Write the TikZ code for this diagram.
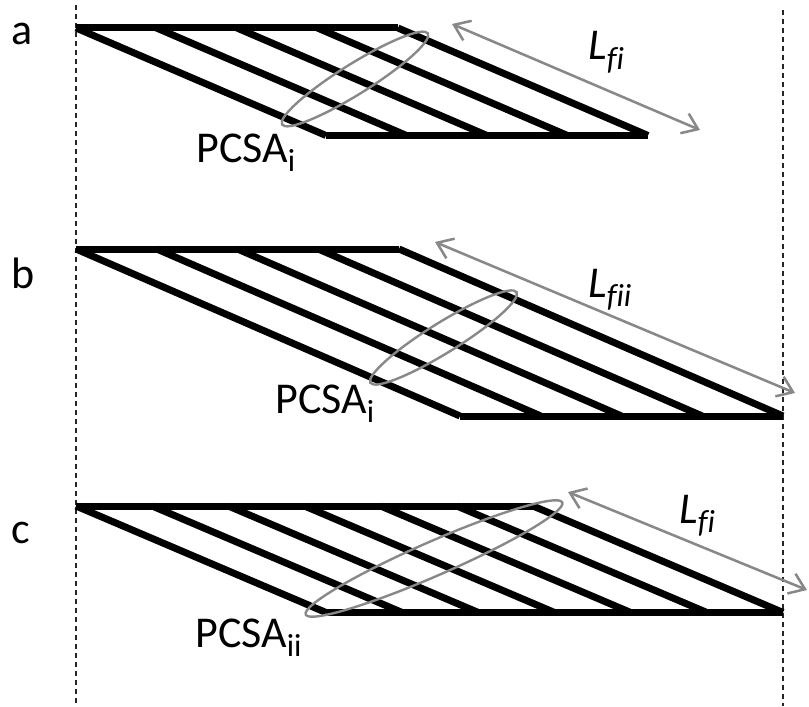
\documentclass[tikz,border=0pt]{standalone}
\usepackage{fontspec}
\setmainfont{Carlito}[Ligatures=NoCommon]
\usetikzlibrary{arrows.meta}
\definecolor{linegray}{RGB}{136,136,136}
\newcommand\lowidx[1]{\raisebox{-0.22em}{\fontsize{24}{24}\selectfont #1}}
\begin{document}
\begin{tikzpicture}[x=0.75pt,y=-0.75pt,
  fiber/.style={line width=5.25pt, line cap=butt},
  guide/.style={line width=1.05pt, dash pattern=on 3.75pt off 3pt, black!85},
  dim/.style={draw=linegray, line width=1.9pt,
    {Straight Barb[length=11pt,width=16pt]}-{Straight Barb[length=11pt,width=16pt]}},
  pcsa/.style={draw=linegray, line width=1.8pt},
  lbl/.style={inner sep=0pt, anchor=base west, font=\fontsize{33}{36}\selectfont}]
\useasboundingbox (0,0) rectangle (809,706);

% vertical reference lines
\coordinate (gl1) at (76,5);   \coordinate (gl2) at (76,706);
\coordinate (gr1) at (783,10); \coordinate (gr2) at (783,706);
\draw[guide] (gl1) -- (gl2);
\draw[guide] (gr1) -- (gr2);

% ---- muscle a: 5 fibres
\draw[fiber] (76,28) -- (398,28);
\draw[fiber] (326,135.5) -- (648,135.5);
\foreach \k in {0,...,4}
  \draw[fiber] ({76+80.5*\k},28) -- ({326+80.5*\k},135.5);
\draw[pcsa, rotate around={32:(355,79)}] (355,79) ellipse [x radius=64.5pt, y radius=11.3pt];
\coordinate (la1) at (452,24); \coordinate (la2) at (700,130);
\draw[dim] (la1) -- (la2);
\node[lbl] (ta) at (11,45) {a};
\node[lbl] (pa) at (196,162) {PCSA\lowidx{i}};
\node[lbl] (fa) at (588,60) {\itshape L\lowidx{fi}};

% ---- muscle b: 5 longer fibres
\draw[fiber] (76,249) -- (399,249);
\draw[fiber] (460,416) -- (783,416);
\foreach \k in {0,...,4}
  \draw[fiber] ({76+80.75*\k},249) -- ({460+80.75*\k},416);
\draw[pcsa, rotate around={31.8:(443.5,337.5)}] (443.5,337.5) ellipse [x radius=64.5pt, y radius=11.3pt];
\coordinate (lb1) at (435,242); \coordinate (lb2) at (795,393);
\draw[dim] (lb1) -- (lb2);
\node[lbl] (tb) at (11,288) {b};
\node[lbl] (pb) at (275,413) {PCSA\lowidx{i}};
\node[lbl] (fb) at (588,297) {\itshape L\lowidx{fii}};

% ---- muscle c: 7 fibres
\draw[fiber] (76,506) -- (533,506);
\draw[fiber] (326,612.5) -- (783,612.5);
\foreach \k in {0,...,6}
  \draw[fiber] ({76+76.17*\k},506) -- ({326+76.17*\k},612.5);
\draw[pcsa, rotate around={23.6:(434,558.5)}] (434,558.5) ellipse [x radius=105pt, y radius=12.8pt];
\coordinate (lc1) at (568,492); \coordinate (lc2) at (807,590);
\draw[dim] (lc1) -- (lc2);
\node[lbl] (tc) at (11,543) {c};
\node[lbl] (pc) at (195,647) {PCSA\lowidx{ii}};
\node[lbl] (fc) at (679,523) {\itshape L\lowidx{fi}};
\end{tikzpicture}
\end{document}
